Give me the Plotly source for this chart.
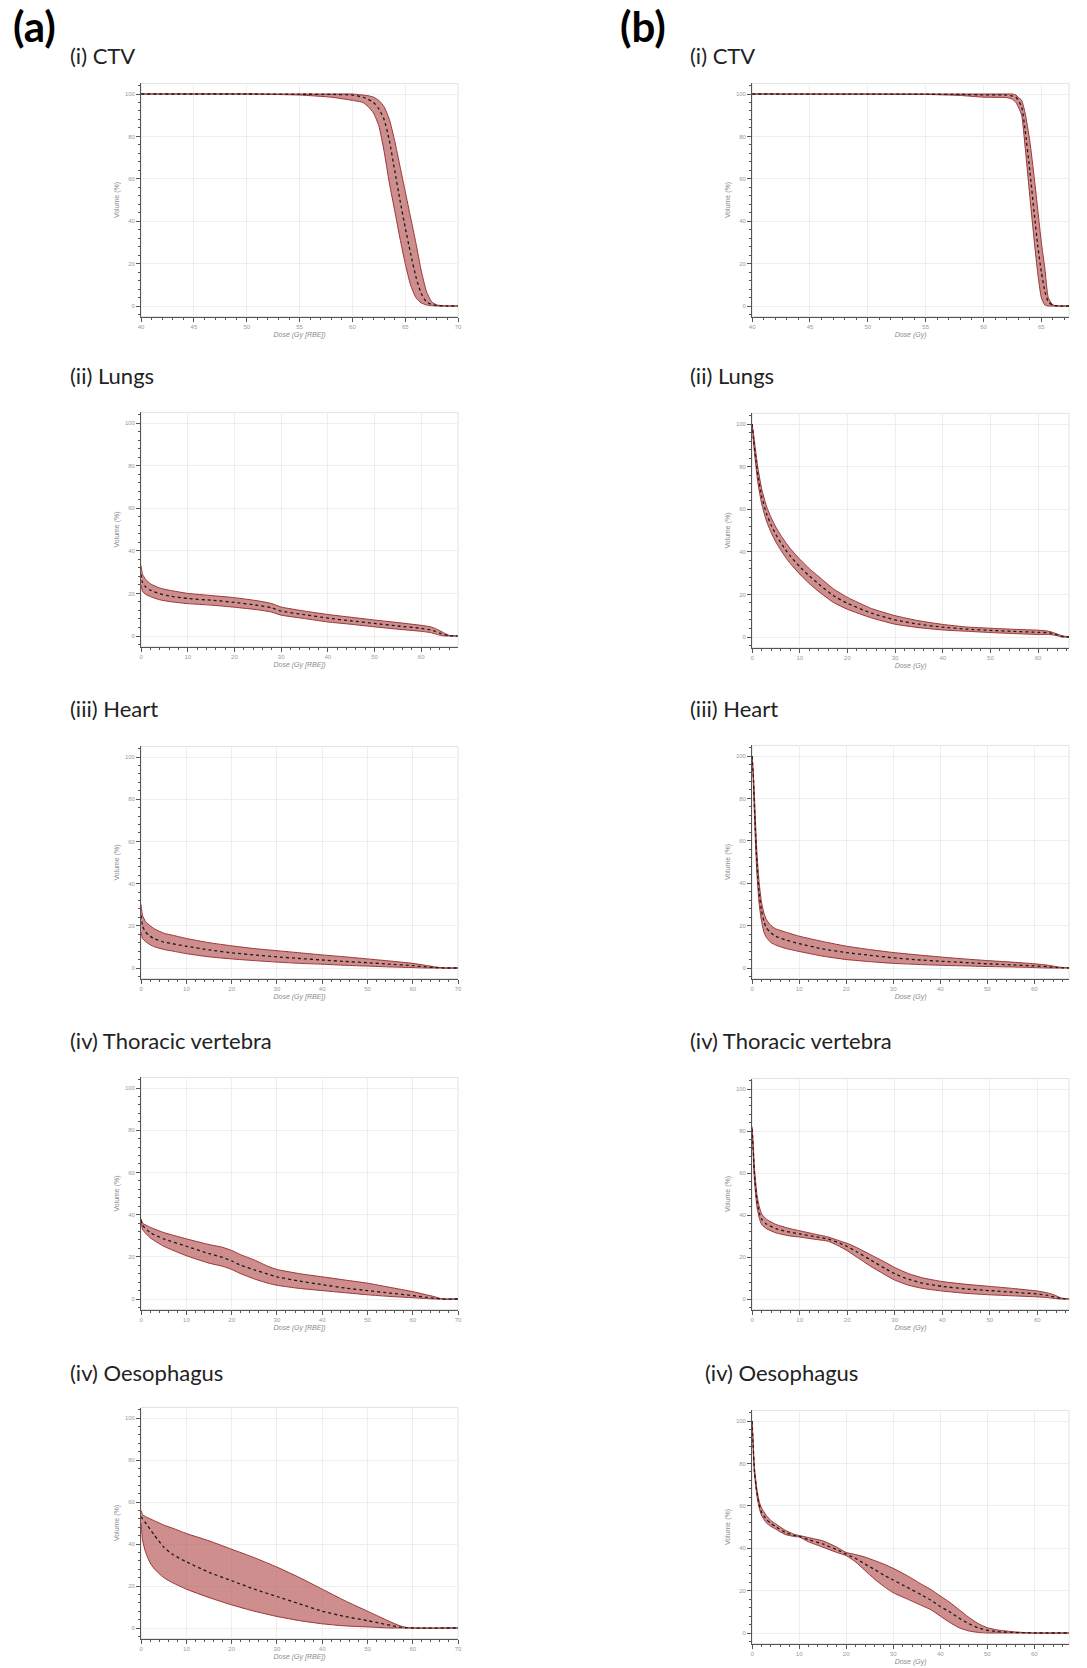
import plotly.graph_objects as go

# ---------------- DATA ----------------
# (a) column: Dose (Gy [RBE]);  (b) column: Dose (Gy)
# CTV
a_ctv_dose   = [40, 50, 55, 58, 60, 61, 61.5, 62, 62.5, 63, 63.5, 64, 64.5, 65, 65.5, 66, 66.5, 67, 67.5, 68, 69, 70]
a_ctv_lower  = [100, 100, 99.5, 98.5, 97, 96, 94, 91, 85, 73, 58, 45, 32, 20, 10, 4, 1.5, 0.5, 0.2, 0, 0, 0]
a_ctv_upper  = [100, 100, 100, 100, 100, 99.5, 99.2, 98.5, 97, 94, 88, 78, 66, 54, 42, 30, 17, 7, 2, 0.5, 0, 0]
a_ctv_median = [100, 100, 99.9, 99.8, 99.5, 98.5, 97.5, 96, 93, 88, 78, 64, 50, 37, 25, 14, 6, 2, 0.7, 0.2, 0, 0]

b_ctv_dose   = [40, 55, 58, 60, 62, 62.5, 62.8, 63, 63.3, 63.6, 64, 64.4, 64.7, 65, 65.3, 65.6, 66, 66.5, 67.4]
b_ctv_lower  = [100, 99.8, 99.3, 98.5, 98.3, 97.5, 96, 94, 90, 75, 52, 30, 15, 4, 0.5, 0, 0, 0, 0]
b_ctv_upper  = [100, 100, 100, 100, 100, 100, 99.5, 98.5, 97, 91, 78, 60, 45, 30, 18, 4, 0.5, 0, 0]
b_ctv_median = [100, 99.9, 99.8, 99.6, 99.5, 99, 98.5, 97, 94, 83, 64, 43, 28, 16, 7, 2, 0.3, 0, 0]

# Lungs
a_lung_dose   = [0, 0.3, 1, 2, 4, 6, 10, 15, 20, 25, 28, 30, 35, 40, 45, 50, 55, 60, 62, 63, 64, 65, 66, 67.8]
a_lung_upper  = [33, 29, 26.5, 24.5, 22.5, 21.5, 20, 19, 18, 16.5, 15.2, 13.6, 11.7, 10.1, 8.8, 7.5, 6.3, 5, 4.3, 3.5, 2.5, 1.3, 0.3, 0]
a_lung_lower  = [24, 21, 19.5, 18.5, 17, 16.2, 15.2, 14.5, 13.5, 12.3, 11.2, 9.8, 8.2, 6.6, 5.5, 4.3, 3.2, 2.2, 1.6, 1, 0.4, 0, 0, 0]
a_lung_median = [29, 25, 23, 21.5, 19.8, 18.8, 17.6, 16.8, 15.8, 14.4, 13.2, 11.7, 10, 8.4, 7.1, 5.9, 4.7, 3.6, 2.9, 2.2, 1.4, 0.6, 0.1, 0]

b_lung_dose   = [0, 0.3, 0.7, 1.2, 2, 3, 4, 5, 6, 7, 8, 10, 12, 14, 17, 20, 25, 30, 35, 40, 45, 50, 55, 60, 62, 63, 64, 65, 66.5]
b_lung_median = [100, 93, 85, 76, 66, 58, 52.5, 48, 44.3, 41, 38, 33, 28.6, 24.8, 19.5, 15.8, 11.2, 8, 6, 4.6, 3.7, 3.1, 2.6, 2.2, 2, 1.6, 1, 0.3, 0]
b_lung_upper  = [100, 95, 88, 79.5, 69.5, 61.5, 56, 51.5, 47.8, 44.5, 41.5, 36.5, 32.1, 28.3, 22.7, 18.6, 13.4, 10, 7.6, 5.9, 4.7, 4.1, 3.6, 3.2, 2.8, 2.2, 1.4, 0.6, 0]
b_lung_lower  = [100, 91, 82, 72.5, 62.5, 54.5, 49, 44.5, 40.8, 37.5, 34.5, 29.5, 25.1, 21.3, 16.3, 13, 9, 6, 4.4, 3.3, 2.7, 2.1, 1.6, 1.2, 1.2, 1, 0.6, 0, 0]

# Heart
a_heart_dose   = [0, 0.3, 1, 2, 3, 5, 7, 10, 15, 20, 25, 30, 35, 40, 45, 50, 55, 60, 63, 65, 67, 70]
a_heart_upper  = [30, 25, 22, 20, 18.5, 16.5, 15.5, 14, 12, 10.5, 9.2, 8.2, 7.2, 6.2, 5.3, 4.3, 3.3, 2.2, 1.2, 0.5, 0, 0]
a_heart_lower  = [17, 14, 12.5, 11, 10, 8.8, 8, 6.8, 5.3, 4.3, 3.5, 2.8, 2.2, 1.8, 1.3, 0.9, 0.5, 0.2, 0, 0, 0, 0]
a_heart_median = [25, 20, 17, 15, 13.8, 12.3, 11.5, 10.3, 8.6, 7.2, 6.2, 5.3, 4.5, 3.8, 3.1, 2.5, 1.8, 1.1, 0.5, 0.2, 0, 0]

b_heart_dose   = [0, 0.3, 0.6, 1, 1.5, 2, 2.5, 3, 4, 5, 7, 10, 15, 20, 25, 30, 35, 40, 45, 50, 55, 60, 63, 65, 67.4]
b_heart_upper  = [100, 90, 75, 55, 40, 31, 26, 23, 20, 18.5, 17, 15, 12.5, 10.3, 8.7, 7.3, 6.2, 5.2, 4.3, 3.5, 2.8, 2, 1.3, 0.5, 0]
b_heart_lower  = [100, 85, 65, 45, 30, 22, 17, 14.5, 12, 10.8, 9.3, 7.8, 5.6, 4, 3, 2.2, 1.7, 1.3, 1, 0.7, 0.5, 0.2, 0, 0, 0]
b_heart_median = [100, 88, 70, 50, 35, 27, 22, 19, 16.5, 15, 13.3, 11.5, 9, 7.3, 6, 4.8, 3.9, 3.2, 2.6, 2, 1.5, 1, 0.6, 0.2, 0]

# Thoracic vertebra
a_vert_dose   = [0, 0.3, 2, 5, 10, 15, 18, 20, 22, 25, 28, 30, 35, 40, 45, 50, 55, 60, 63, 65, 66.5, 70]
a_vert_upper  = [38, 36, 34, 31.5, 28.5, 25.8, 24.5, 23, 21, 18.5, 15.5, 14, 12, 10.5, 9, 7.5, 5.5, 3.5, 2, 1, 0, 0]
a_vert_lower  = [37, 33, 29, 25, 20.5, 17, 15.5, 14, 12, 9.5, 7.5, 6.5, 5, 4, 3, 2, 1.2, 0.6, 0.2, 0, 0, 0]
a_vert_median = [37.5, 35, 31.5, 28.5, 25, 21.5, 19.7, 18, 16, 13.8, 11.8, 10.5, 8.5, 6.8, 5.2, 4, 2.8, 1.6, 0.8, 0.3, 0, 0]

b_vert_dose   = [0, 0.2, 0.5, 1, 1.5, 2, 3, 5, 8, 10, 13, 16, 18, 20, 22, 25, 28, 30, 33, 36, 40, 45, 50, 55, 60, 62, 63.5, 65, 66.7]
b_vert_upper  = [82, 75, 62, 50, 44, 40.5, 38, 35.5, 33.5, 32.5, 31, 29.5, 28, 26.5, 24.5, 21, 17.5, 15, 12, 10, 8.3, 7, 6, 5, 3.8, 3, 2, 0.5, 0]
b_vert_lower  = [80, 70, 56, 44, 38.5, 35.5, 33.5, 31.5, 30, 29.5, 28.5, 27.5, 25.5, 23, 20, 15.5, 11.5, 9, 6.5, 5, 3.8, 2.7, 2, 1.5, 1, 0.7, 0.3, 0, 0]
b_vert_median = [81, 72, 59, 47, 41, 38, 35.7, 33.5, 31.8, 31, 29.8, 28.5, 27, 25, 22.5, 18.5, 14.5, 12, 9.3, 7.5, 6, 4.8, 4, 3.2, 2.4, 1.8, 1, 0.2, 0]

# Oesophagus
a_oes_dose   = [0, 0.3, 1, 2, 3, 5, 7, 10, 15, 20, 25, 30, 35, 40, 45, 50, 53, 55, 57, 58.5, 60, 70]
a_oes_upper  = [56, 54, 53, 52, 51, 49, 47.5, 45, 41.5, 37.5, 33.5, 29, 24, 18.5, 13, 8, 5, 3, 1.2, 0.3, 0, 0]
a_oes_lower  = [50, 42, 36, 31, 28, 24, 21.5, 18.5, 14.5, 11, 8, 5.5, 3.5, 2, 1, 0.5, 0.2, 0, 0, 0, 0, 0]
a_oes_median = [53, 52, 50, 47, 44, 38.5, 35, 31.5, 26.5, 22.5, 18.5, 15, 11.5, 8, 5.5, 3.5, 2.2, 1.3, 0.5, 0.1, 0, 0]

b_oes_dose   = [0, 0.2, 0.5, 1, 1.5, 2, 3, 4, 5, 7, 9, 10, 12, 15, 18, 20, 22, 24, 26, 28, 30, 33, 36, 38, 40, 42, 44, 46, 48, 50, 52, 55, 58, 60, 67.4]
b_oes_upper  = [100, 90, 78, 68, 62, 59, 55.5, 53, 51.5, 48.5, 46.5, 46, 45, 43.5, 40.5, 38, 37, 35.8, 34.2, 32.5, 30.5, 27, 23, 20.5, 17.5, 14.5, 11, 7.5, 4.5, 2.5, 1.5, 0.7, 0.2, 0, 0]
b_oes_lower  = [100, 88, 75, 65, 59, 55.5, 52, 50.3, 49, 46.5, 45.5, 45.3, 43, 40.5, 38, 36.5, 33.5, 29.5, 25.5, 22, 19, 16, 13, 11, 8, 5, 2.5, 1, 0.3, 0, 0, 0, 0, 0, 0]
b_oes_median = [100, 89, 76, 66.5, 60.5, 57, 53.7, 51.6, 50.2, 47.5, 46, 45.6, 44, 42, 39.3, 37.2, 35.2, 32.5, 30, 27.3, 25, 21.5, 18, 15.5, 12.5, 10, 7, 4.5, 2.5, 1.3, 0.7, 0.3, 0.1, 0, 0]

y_ticks = [0, 20, 40, 60, 80, 100]
a_titles = ["(i) CTV", "(ii) Lungs", "(iii) Heart", "(iv) Thoracic vertebra", "(iv) Oesophagus"]
b_titles = ["(i) CTV", "(ii) Lungs", "(iii) Heart", "(iv) Thoracic vertebra", "(iv) Oesophagus"]

series = [
    (a_ctv_dose, a_ctv_lower, a_ctv_upper, a_ctv_median),
    (b_ctv_dose, b_ctv_lower, b_ctv_upper, b_ctv_median),
    (a_lung_dose, a_lung_lower, a_lung_upper, a_lung_median),
    (b_lung_dose, b_lung_lower, b_lung_upper, b_lung_median),
    (a_heart_dose, a_heart_lower, a_heart_upper, a_heart_median),
    (b_heart_dose, b_heart_lower, b_heart_upper, b_heart_median),
    (a_vert_dose, a_vert_lower, a_vert_upper, a_vert_median),
    (b_vert_dose, b_vert_lower, b_vert_upper, b_vert_median),
    (a_oes_dose, a_oes_lower, a_oes_upper, a_oes_median),
    (b_oes_dose, b_oes_lower, b_oes_upper, b_oes_median),
]

# ---------------- LAYOUT GEOMETRY (pixels) ----------------
W, H = 1087, 1668
col_x = {"a": (139, 458), "b": (754, 1073)}
# (column, y-pixel of 100 %, y-pixel of 0 %, x range, x major ticks, x minor dtick)
geom = [
    ("a", 94, 306, [40, 70], [40, 45, 50, 55, 60, 65, 70], 1),
    ("b", 94, 306, [40, 67.4], [40, 45, 50, 55, 60, 65], 1),
    ("a", 423, 636, [0, 67.9], [0, 10, 20, 30, 40, 50, 60], 2),
    ("b", 424, 637, [0, 66.5], [0, 10, 20, 30, 40, 50, 60], 2),
    ("a", 757, 968, [0, 70], [0, 10, 20, 30, 40, 50, 60, 70], 2),
    ("b", 756, 968, [0, 67.4], [0, 10, 20, 30, 40, 50, 60], 2),
    ("a", 1088, 1299, [0, 70], [0, 10, 20, 30, 40, 50, 60, 70], 2),
    ("b", 1089, 1299, [0, 66.7], [0, 10, 20, 30, 40, 50, 60], 2),
    ("a", 1418, 1628, [0, 70], [0, 10, 20, 30, 40, 50, 60, 70], 2),
    ("b", 1421, 1633, [0, 67.4], [0, 10, 20, 30, 40, 50, 60], 2),
]

FILL = "rgba(188,98,98,0.72)"
EDGE = "#9a3535"
AXC = "#555555"
TICKF = dict(size=6, color="#9a9a9a", family="Liberation Sans, Arial, sans-serif")

fig = go.Figure()
layout = dict(width=W, height=H, autosize=False, margin=dict(l=0, r=0, t=0, b=0),
              paper_bgcolor="white", plot_bgcolor="white", showlegend=False)
shapes = []

for i, ((col, y100, y0, xr, xt, xminor), (dose, lo, hi, med)) in enumerate(zip(geom, series)):
    n = i + 1
    xa = "x" if n == 1 else f"x{n}"
    ya = "y" if n == 1 else f"y{n}"
    s = (y0 - y100) / 100.0
    top = y100 - 5 * s
    bot = y0 + 5 * s
    xl, xrp = col_x[col]

    fig.add_trace(go.Scatter(x=dose, y=lo, mode="lines", line=dict(color=EDGE, width=1, shape="spline", smoothing=0.5),
                             xaxis=xa, yaxis=ya, hoverinfo="skip"))
    fig.add_trace(go.Scatter(x=dose, y=hi, mode="lines", fill="tonexty", fillcolor=FILL,
                             line=dict(color=EDGE, width=1, shape="spline", smoothing=0.5),
                             xaxis=xa, yaxis=ya, hoverinfo="skip"))
    fig.add_trace(go.Scatter(x=dose, y=med, mode="lines",
                             line=dict(color="#1a1a1a", width=1.3, dash="dot", shape="spline", smoothing=0.5),
                             xaxis=xa, yaxis=ya, hoverinfo="skip"))

    xtitle = "Dose (Gy [RBE])" if col == "a" else "Dose (Gy)"
    layout["xaxis" if n == 1 else f"xaxis{n}"] = dict(
        domain=[xl / W, xrp / W], anchor=ya, range=xr, tickvals=xt,
        showgrid=True, gridcolor="#eeeeee", gridwidth=1, zeroline=False,
        showline=True, linecolor=AXC, linewidth=1,
        ticks="outside", ticklen=4, tickcolor=AXC, tickwidth=1, tickfont=TICKF,
        minor=dict(dtick=xminor, tick0=0, ticks="outside", ticklen=2, tickcolor=AXC, showgrid=False),
        title=dict(text=xtitle, standoff=3,
                   font=dict(size=7, color="#8a8a8a", family="Liberation Sans, Arial, sans-serif", style="italic")),
    )
    layout["yaxis" if n == 1 else f"yaxis{n}"] = dict(
        domain=[1 - bot / H, 1 - top / H], anchor=xa, range=[-5, 105], tickvals=y_ticks,
        showgrid=True, gridcolor="#eeeeee", gridwidth=1, zeroline=False,
        showline=True, linecolor=AXC, linewidth=1,
        ticks="outside", ticklen=4, tickcolor=AXC, tickwidth=1, tickfont=TICKF,
        minor=dict(dtick=4, tick0=0, ticks="outside", ticklen=2, tickcolor=AXC, showgrid=False),
        title=dict(text="Volume (%)", standoff=4,
                   font=dict(size=7, color="#8a8a8a", family="Liberation Sans, Arial, sans-serif")),
    )
    shapes.append(dict(type="rect", xref=f"{xa} domain", yref=f"{ya} domain", x0=0, x1=1, y0=0, y1=1,
                       line=dict(color="#e2e2e2", width=1), layer="below"))

annotations = []
TF = "Lato, Open Sans, sans-serif"
annotations.append(dict(text="<b>(a)</b>", x=8 / W, y=1 - 26 / H, xref="paper", yref="paper",
                        xanchor="left", yanchor="middle", showarrow=False, font=dict(size=42, family=TF, color="#000")))
annotations.append(dict(text="<b>(b)</b>", x=619 / W, y=1 - 26 / H, xref="paper", yref="paper",
                        xanchor="left", yanchor="middle", showarrow=False, font=dict(size=42, family=TF, color="#000")))
row_y = [55, 376, 708, 1040, 1372]
for r in range(5):
    annotations.append(dict(text=a_titles[r], x=65 / W, y=1 - row_y[r] / H, xref="paper", yref="paper",
                            xanchor="left", yanchor="middle", showarrow=False,
                            font=dict(size=22, family=TF, color="#222")))
    bx = 705 if r == 4 else 689
    annotations.append(dict(text=b_titles[r], x=bx / W, y=1 - row_y[r] / H, xref="paper", yref="paper",
                            xanchor="left", yanchor="middle", showarrow=False,
                            font=dict(size=22, family=TF, color="#222")))

layout["annotations"] = annotations
layout["shapes"] = shapes
fig.update_layout(**layout)
fig.write_html("out.html")
